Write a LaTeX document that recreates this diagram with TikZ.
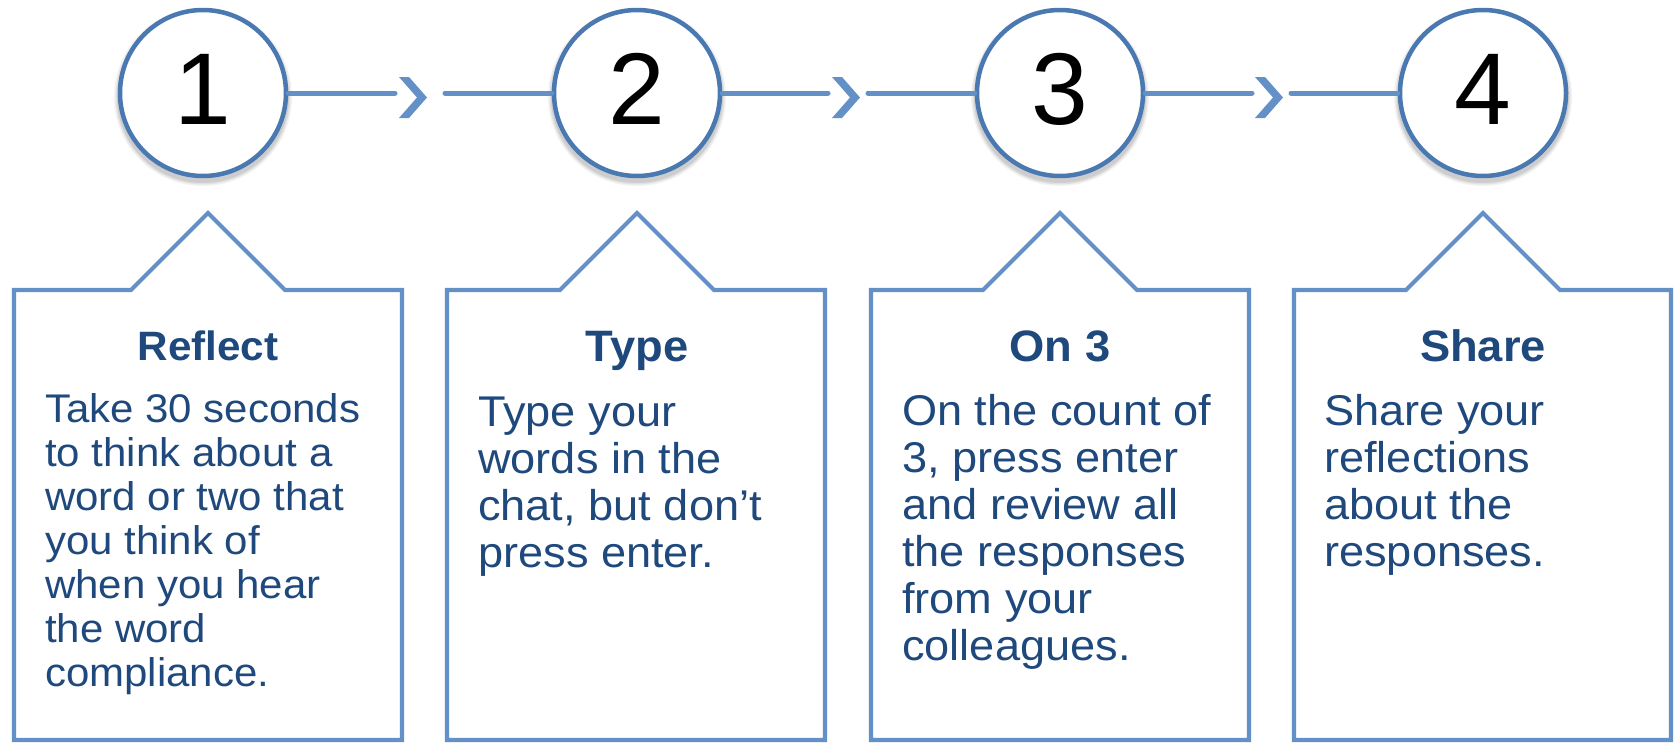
\documentclass[tikz,border=0pt]{standalone}
\usepackage{fontspec}
\setmainfont{Liberation Sans}
\newfontfamily\bodyfont{Liberation Sans}[FakeStretch=1.05]
\newfontfamily\headfont{Liberation Sans}[FakeStretch=1.03]
\definecolor{linec}{HTML}{6490C8}
\definecolor{circc}{HTML}{4A78B0}
\definecolor{txtc}{HTML}{1F497D}
\begin{document}
\begin{tikzpicture}[x=1pt,y=-1pt,
  numc/.style={circle, draw=circc, line width=4.5pt, fill=white, minimum size=166pt, inner sep=0pt, text depth=8pt, font=\fontsize{102}{102}\selectfont},
  conn/.style={draw=linec, line width=5pt, line cap=round},
  chev/.style={fill=linec},
  panel/.style={draw=linec, line width=4.2pt, line join=miter},
  head/.style={font=\headfont\bfseries\fontsize{44}{47}\selectfont, text=txtc, anchor=base, inner sep=0pt},
  headsm/.style={head, font=\headfont\bfseries\fontsize{41}{44}\selectfont},
  body/.style={font=\bodyfont\fontsize{43}{47}\selectfont, text=txtc, anchor=base west, inner sep=0pt},
  bodysm/.style={body, font=\bodyfont\fontsize{40}{44}\selectfont}]
\useasboundingbox (0,0) rectangle (1678,742);

% panels
\draw[panel] (14,740) -- (14,290) -- (131,290) -- (208,213) -- (285,290) -- (402,290) -- (402,740) -- cycle;
\draw[panel] (447,740) -- (447,290) -- (560,290) -- (637,213) -- (714,290) -- (825,290) -- (825,740) -- cycle;
\draw[panel] (871,740) -- (871,290) -- (983,290) -- (1060,213) -- (1137,290) -- (1249,290) -- (1249,740) -- cycle;
\draw[panel] (1294,740) -- (1294,290) -- (1406,290) -- (1483,213) -- (1560,290) -- (1671,290) -- (1671,740) -- cycle;

% connector coordinates
\coordinate (a1) at (395,93);  \coordinate (b1) at (445,93);
\coordinate (a2) at (828,93);  \coordinate (b2) at (868,93);
\coordinate (a3) at (1252,93); \coordinate (b3) at (1291,93);

% shadows
\foreach \cx in {203,637,1060,1483}{
  \foreach \r/\o in {89/0.05,87.5/0.07,86/0.09}{
    \fill[black,opacity=\o] (\cx,97) circle (\r);
  }
}

% circles
\node[numc] (c1) at (203,93) {1};
\node[numc] (c2) at (637,93) {2};
\node[numc] (c3) at (1060,93) {3};
\node[numc] (c4) at (1483,93) {4};

% connectors
\draw[conn] (c1) -- (a1);
\draw[conn] (b1) -- (c2);
\draw[conn] (c2) -- (a2);
\draw[conn] (b2) -- (c3);
\draw[conn] (c3) -- (a3);
\draw[conn] (b3) -- (c4);
\foreach \x in {399,832,1255}{
  \fill[chev] (\x,77) -- (\x+10,77) -- (\x+28,97.5) -- (\x+10,118) -- (\x,118) -- (\x+18,97.5) -- cycle;
}

% headings
\node[headsm] (h1) at (208,360) {Reflect};
\node[head] (h2) at (637,361) {Type};
\node[head] (h3) at (1060,361) {On 3};
\node[head] (h4) at (1483,361) {Share};

% body texts
\node[bodysm] (t1) at (45,422) {\parbox[t]{350pt}{\raggedright Take 30 seconds\\to think about a\\word or two that\\you think of\\when you hear\\the word\\compliance.}};
\node[body] (t2) at (478,426) {\parbox[t]{340pt}{\raggedright Type your\\words in the\\chat, but don’t\\press enter.}};
\node[body] (t3) at (902,425) {\parbox[t]{340pt}{\raggedright On the count of\\3, press enter\\and review all\\the responses\\from your\\colleagues.}};
\node[body] (t4) at (1324,425) {\parbox[t]{340pt}{\raggedright Share your\\reflections\\about the\\responses.}};
\end{tikzpicture}
\end{document}
